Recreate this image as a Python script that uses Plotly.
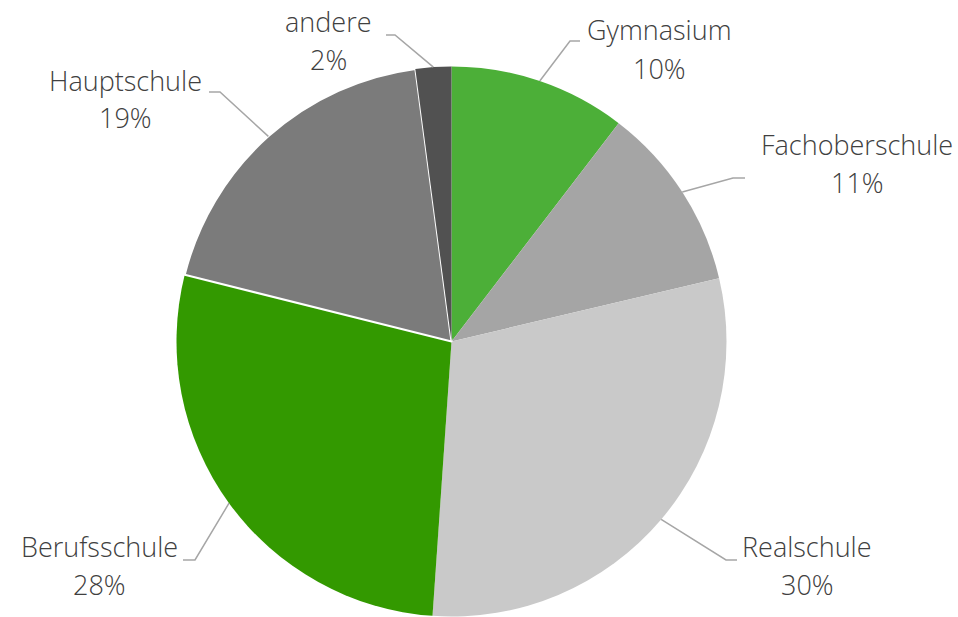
import math
import plotly.graph_objects as go

# ---- data ----
categories = ["Gymnasium", "Fachoberschule", "Realschule", "Berufsschule", "Hauptschule", "andere"]
values = [10.4, 10.9, 29.8, 27.8, 19.0, 2.1]
colors = ["#4caf38", "#a5a5a5", "#c9c9c9", "#339900", "#7b7b7b", "#515151"]

# ---- layout constants (pixels) ----
W, H = 958, 617
CX, CY, R = 451.5, 341.5, 275.0
# label text center, elbow point, horizontal end of leader line
label_layout = {
    "Gymnasium":      dict(tx=659, ty=49,  ex=570, ey=41,  hx=580),
    "Fachoberschule": dict(tx=857, ty=163, ex=733, ey=178, hx=745),
    "Realschule":     dict(tx=807, ty=565, ex=726, ey=560, hx=737),
    "Berufsschule":   dict(tx=99,  ty=565, ex=195, ey=560, hx=183),
    "Hauptschule":    dict(tx=125, ty=99,  ex=220, ey=92,  hx=209),
    "andere":         dict(tx=328, ty=41,  ex=395, ey=35,  hx=386),
}
LINE_GAP = 38

def px(x):
    return x / W

def py(y):
    return 1 - y / H

FONT = "Open Sans, Noto Sans, sans-serif"
TEXT_COLOR = "#404040"
LINE_COLOR = "#a6a6a6"

line_widths = [2 if c == "Hauptschule" else 0 for c in categories]

fig = go.Figure(go.Pie(
    labels=categories,
    values=values,
    sort=False,
    direction="clockwise",
    rotation=0,
    marker=dict(colors=colors, line=dict(color="white", width=line_widths)),
    textinfo="none",
    hoverinfo="label+percent",
    domain=dict(x=[px(CX - R), px(CX + R)], y=[py(CY + R), py(CY - R)]),
    showlegend=False,
))

total = sum(values)
cum = 0.0
annotations = []
shapes = []
for cat, v in zip(categories, values):
    mid = 2 * math.pi * (cum + v / 2) / total
    cum += v
    edge_x = CX + R * math.sin(mid)
    edge_y = CY - R * math.cos(mid)
    L = label_layout[cat]
    pct = round(100 * v / total)
    for txt, dy in ((cat, -LINE_GAP / 2), (f"{pct}%", LINE_GAP / 2)):
        annotations.append(dict(
            x=px(L["tx"]), y=py(L["ty"] + dy), xref="paper", yref="paper",
            text=txt, showarrow=False,
            xanchor="center", yanchor="middle", align="center",
            font=dict(family=FONT, size=27, color=TEXT_COLOR, weight=300),
        ))
    shapes.append(dict(
        type="path", xref="paper", yref="paper",
        path=f"M {px(edge_x)} {py(edge_y)} L {px(L['ex'])} {py(L['ey'])} L {px(L['hx'])} {py(L['ey'])}",
        line=dict(color=LINE_COLOR, width=1.5),
    ))

fig.update_layout(
    width=W, height=H,
    margin=dict(l=0, r=0, t=0, b=0),
    paper_bgcolor="white",
    plot_bgcolor="white",
    annotations=annotations,
    shapes=shapes,
)

fig.write_html("out.html", config={"displayModeBar": False})

# remove default page margin so the figure sits at the window origin
with open("out.html", encoding="utf-8") as f:
    html = f.read()
html = html.replace("<body>", '<body style="margin:0;padding:0;overflow:hidden">', 1)
with open("out.html", "w", encoding="utf-8") as f:
    f.write(html)
